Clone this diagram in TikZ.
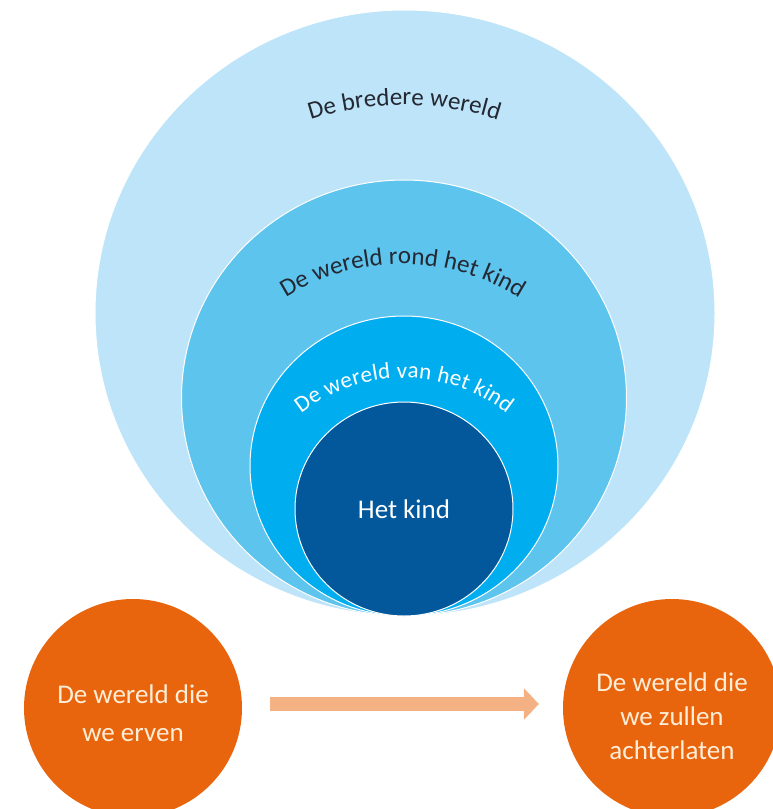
\documentclass[tikz,border=0pt]{standalone}
\usepackage{fontspec}
\setmainfont{Carlito}
\usetikzlibrary{shapes.geometric,arrows.meta,decorations.text}

\definecolor{wereldlicht}{RGB}{189,228,248}
\definecolor{wereldrond}{RGB}{93,196,238}
\definecolor{wereldvan}{RGB}{0,174,239}
\definecolor{kinddonker}{RGB}{2,88,155}
\definecolor{oranje}{RGB}{232,101,14}
\definecolor{zalm}{RGB}{244,177,131}
\definecolor{inkt}{RGB}{35,40,50}
\definecolor{creme}{RGB}{255,238,215}

\tikzset{
	ring/.style={ellipse, draw=white, line width=1pt, inner sep=0pt},
	erfenis/.style={circle, fill=oranje, minimum size=218pt, inner sep=0pt},
	erfenistekst/.style={align=center, text=creme, inner sep=0pt, font=\fontsize{27}{34}\selectfont},
	boog/.style={decorate, decoration={text along path, text align=fit to path, text={#1}}}
}

\begin{document}
\begin{tikzpicture}[x=1pt, y=1pt]
	\useasboundingbox[fill=white] (0,0) rectangle (772,-809);
	% de kringen rond het kind
	\node (breed) [ring, fill=wereldlicht, minimum width=620pt, minimum height=606pt] at (405,-313) {};
	\node (rond) [ring, fill=wereldrond, minimum width=445pt, minimum height=436pt] at (404,-398) {};
	\node (van) [ring, fill=wereldvan, minimum width=308pt, minimum height=300pt] at (404,-466) {};
	\node (kind) [ring, fill=kinddonker, minimum width=218pt, minimum height=214pt, text=white, font=\fontsize{27}{32}\selectfont] at (404,-509) {Het kind};
	% middelpunten van de bogen
	\coordinate (m1) at (404,-407);
	\coordinate (m2) at (402,-483);
	\coordinate (m3) at (404,-545);
	\path[boog={|\fontsize{25}{25}\selectfont\color{inkt}|De bredere wereld}] ([shift={(108:302)}]m1) arc[start angle=108, end angle=72, radius=302];
	\path[boog={|\fontsize{25}{25}\selectfont\color{inkt}|De wereld rond het kind}] ([shift={(122:219)}]m2) arc[start angle=122, end angle=58, radius=219];
	\path[boog={|\fontsize{23}{23}\selectfont\color{white}|De wereld van het kind}] ([shift={(128:167)}]m3) arc[start angle=128, end angle=52, radius=167];
	% erven en achterlaten
	\node (erven) [erfenis] at (133,-708) {};
	\node (laten) [erfenis] at (672,-708) {};
	\node (erventekst) [erfenistekst] at ([yshift=-5pt]erven) {De wereld die\\[4pt]we erven};
	\node (latentekst) [erfenistekst] at ([yshift=-8pt]laten) {De wereld die\\we zullen\\achterlaten};
	\draw[zalm, line width=14pt, -{Triangle[length=15pt, width=31pt]}, shorten <=28pt, shorten >=24pt] ([yshift=4pt]erven.east) -- ([yshift=4pt]laten.west);
\end{tikzpicture}
\end{document}
